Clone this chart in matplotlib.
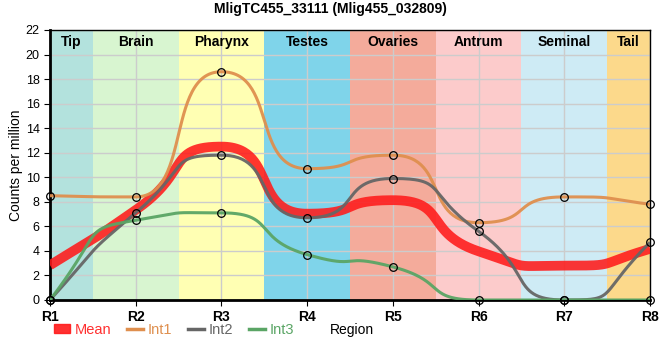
import numpy as np
import matplotlib
matplotlib.use("Agg")
import matplotlib.pyplot as plt
from matplotlib.patches import Patch
from matplotlib.lines import Line2D

regions = ["R1", "R2", "R3", "R4", "R5", "R6", "R7", "R8"]
int1 = [8.5, 8.4, 18.6, 10.7, 11.8, 6.3, 8.4, 7.8]
int2 = [0.0, 7.1, 11.8, 6.7, 9.9, 5.6, 0.0, 4.7]
int3 = [0.0, 6.5, 7.1, 3.7, 2.7, 0.0, 0.0, 0.0]
mean = list(np.mean([int1, int2, int3], axis=0))

band_names = ["Tip", "Brain", "Pharynx", "Testes", "Ovaries", "Antrum", "Seminal", "Tail"]
band_colours = ["#b3e2dd", "#d8f5d0", "#ffffb3", "#7fd4ea",
                "#f4ab9b", "#fccbcb", "#ceebf5", "#fcd98b"]


def smooth(x, y, a=0.65, n=60):
    # monotone slopes, drawn as cubic beziers with long handles (flat tops)
    x = np.asarray(x, float)
    y = np.asarray(y, float)
    h = np.diff(x)
    d = np.diff(y) / h
    m = np.zeros_like(y)
    for i in range(1, len(y) - 1):
        if d[i - 1] * d[i] > 0:
            p = (d[i - 1] * h[i] + d[i] * h[i - 1]) / (h[i - 1] + h[i])
            m[i] = (np.sign(d[i - 1]) + np.sign(d[i])) * min(abs(d[i - 1]), abs(d[i]), 0.5 * abs(p))
    m[0] = (3 * d[0] - m[1]) / 2
    m[-1] = (3 * d[-1] - m[-2]) / 2
    t = np.linspace(0, 1, n)
    b0, b1, b2, b3 = (1 - t)**3, 3 * t * (1 - t)**2, 3 * t**2 * (1 - t), t**3
    xs, ys = [], []
    for i in range(len(h)):
        cx1, cy1 = x[i] + a * h[i], y[i] + a * h[i] * m[i]
        cx2, cy2 = x[i + 1] - a * h[i], y[i + 1] - a * h[i] * m[i + 1]
        xs.append(b0 * x[i] + b1 * cx1 + b2 * cx2 + b3 * x[i + 1])
        ys.append(b0 * y[i] + b1 * cy1 + b2 * cy2 + b3 * y[i + 1])
    return np.concatenate(xs), np.concatenate(ys)


plt.rcParams["font.family"] = ["Liberation Sans", "DejaVu Sans"]

fig = plt.figure(figsize=(6.6, 3.6), dpi=100)
ax = fig.add_axes([50 / 660, 60 / 360, 600 / 660, 270 / 360])

xpos = np.arange(1, 9)
edges = [1, 1.5, 2.5, 3.5, 4.5, 5.5, 6.5, 7.5, 8]
for i, name in enumerate(band_names):
    ax.axvspan(edges[i], edges[i + 1], color=band_colours[i], lw=0, zorder=0)
    ax.text((edges[i] + edges[i + 1]) / 2, 21.6, name, ha="center", va="top",
            fontsize=10, fontweight="bold", zorder=5)

ax.grid(True, color="#cccccc", lw=1, zorder=1)
ax.set_axisbelow(True)

series = [
    ("Mean", mean, "#ff1a1a", 7, 0.88),
    ("Int1", int1, "#df8f4e", 2.2, 0.95),
    ("Int2", int2, "#666666", 2.2, 0.95),
    ("Int3", int3, "#5aa565", 2.2, 0.95),
]
for name, vals, col, lw, a in series:
    sx, sy = smooth(xpos, vals)
    ax.plot(sx, sy, color=col, lw=lw, alpha=a, solid_capstyle="butt", zorder=3)

for name, vals, col, lw, a in series[1:]:
    ax.plot(xpos, vals, "o", ms=5.5, mfc="none", mec="black", mew=0.9, zorder=4, clip_on=False)

ax.set_xlim(1, 8)
ax.set_ylim(0, 22)
ax.set_xticks(xpos)
ax.set_xticklabels(regions, fontsize=10, fontweight="bold")
ax.set_yticks(range(0, 23, 2))
ax.tick_params(axis="y", labelsize=9, length=4)
ax.tick_params(axis="x", length=4, pad=3)
for s in ["left", "bottom"]:
    ax.spines[s].set_linewidth(2)
for s in ["top", "right"]:
    ax.spines[s].set_linewidth(1)
ax.set_ylabel("Counts per million", fontsize=10, labelpad=2)

fig.text(0.5, 1 - 9 / 360, "MligTC455_33111 (Mlig455_032809)", ha="center", va="center",
         fontsize=10, fontweight="bold")
fig.text(352 / 660, 1 - 330 / 360, "Region", ha="center", va="center", fontsize=10)

handles = [
    Patch(color="#ff1a1a", alpha=0.9),
    Line2D([0], [0], color="#df8f4e", lw=2.5),
    Line2D([0], [0], color="#666666", lw=2.5),
    Line2D([0], [0], color="#5aa565", lw=2.5),
]
leg = fig.legend(handles, ["Mean", "Int1", "Int2", "Int3"], ncol=4, loc="center left",
                 bbox_to_anchor=(54 / 660, 1 - 330 / 360), frameon=False,
                 fontsize=10.5, handlelength=1.1, handleheight=0.6, handletextpad=0.3,
                 columnspacing=1.1, borderaxespad=0, borderpad=0)
for txt, col in zip(leg.get_texts(), ["#ff3030", "#df8f4e", "#666666", "#5aa565"]):
    txt.set_color(col)

fig.savefig("out.png", dpi=100)
